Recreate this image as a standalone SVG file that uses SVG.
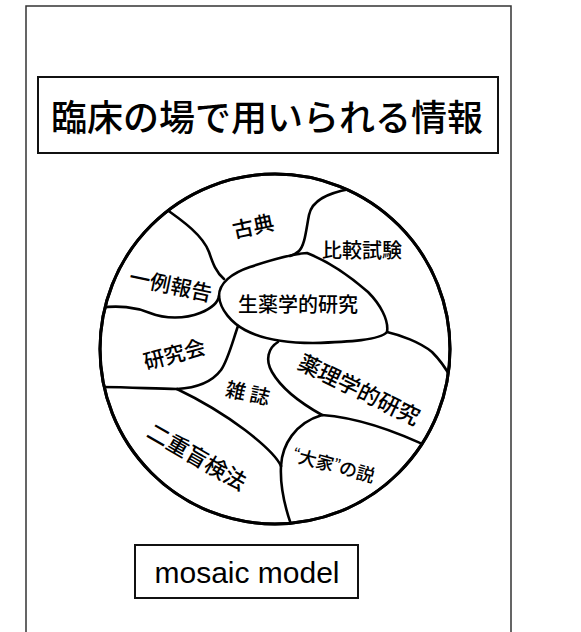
<svg xmlns="http://www.w3.org/2000/svg" width="581" height="632" viewBox="0 0 581 632">
<style>
  .frame { fill: none; stroke: #333; stroke-width: 1.5; }
  .box { fill: #fff; stroke: #111; stroke-width: 2; }
  .rim { fill: #fff; stroke: #000; stroke-width: 3; }
  .seam { fill: none; stroke: #000; stroke-width: 2.6; stroke-linejoin: round; stroke-linecap: round; }
  .jp { font-family: "Noto Sans CJK JP", "Noto Sans CJK SC", sans-serif; font-weight: 500; fill: #000; text-anchor: middle; dominant-baseline: central; }
  .lbl { font-size: 21px; }
  .en { font-family: "Liberation Sans", Arial, sans-serif; fill: #000; text-anchor: middle; }
</style>
<defs>
  <clipPath id="inside">
    <circle cx="275" cy="349" r="175"/>
  </clipPath>
</defs>
<rect width="581" height="632" fill="#fff"/>
<path class="frame" d="M26,640 L26,6 L511,6 L511,640"/>

<g id="title">
  <rect class="box" x="38" y="77" width="460" height="76"/>
  <text class="jp" x="267" y="115" font-size="36">臨床の場で用いられる情報</text>
</g>

<g id="mosaic">
  <circle class="rim" cx="275" cy="349" r="175"/>
  <g id="connectors" clip-path="url(#inside)">
    <path class="seam" d="M160,205 C185,222 203,236 209,252 C213,264 216,272 224,279"/>
    <path class="seam" d="M350,189 C328,193 312,200 309,215 C306,230 305,245 299,251 C296,254 293,255 290,256"/>
    <path class="seam" d="M387,332 C400,335 420,342 432,352 C438,358 445,366 452,380"/>
    <path class="seam" d="M95,308 C120,305 135,307 150,313 C165,319 185,319 200,313 C210,309 218,303 219,296"/>
    <path class="seam" d="M238,326 C233,340 228,360 221,370 C212,382 195,388 177,389"/>
    <path class="seam" d="M95,387 C130,387 155,389 177,389"/>
    <path class="seam" d="M177,389 C200,400 225,415 245,430 C262,443 276,455 281,466"/>
    <path class="seam" d="M281,466 C280,485 283,505 295,535"/>
    <path class="seam" d="M281,466 C282,445 295,423 322,415 C350,417 390,428 435,450"/>
    <path class="seam" d="M278,342 C268,348 265,360 272,372 C280,386 295,400 322,415"/>
  </g>
  <circle cx="275" cy="349" r="175" fill="none" stroke="#000" stroke-width="3"/>
</g>

<g id="node-shoyaku">
  <path class="seam" d="M219,296 C219,283 232,273 250,267 C268,261 290,254 307,253 C330,262 352,278 368,292 C380,304 389,320 387,332 C380,340 350,342 313,343 C285,343 262,339 245,330 C232,323 220,310 219,296 Z"/>
  <text class="jp" x="298" y="303" font-size="20">生薬学的研究</text>
</g>
<g id="node-koten">
  <text class="jp lbl" x="253" y="225" transform="rotate(-12 253 225)">古典</text>
</g>
<g id="node-hikaku">
  <text class="jp" x="362" y="249" font-size="20">比較試験</text>
</g>
<g id="node-ichirei">
  <text class="jp lbl" x="171" y="284" transform="rotate(12 171 284)">一例報告</text>
</g>
<g id="node-kenkyukai">
  <text class="jp lbl" x="174" y="353" transform="rotate(-15 174 353)">研究会</text>
</g>
<g id="node-zasshi">
  <text class="jp" x="248" y="392" font-size="20" transform="rotate(12 248 392)">雑 誌</text>
</g>
<g id="node-yakuri">
  <text class="jp" x="360" y="388" font-size="22" transform="rotate(26 360 388)">薬理学的研究</text>
</g>
<g id="node-nijumoken">
  <text class="jp" x="198" y="455" font-size="22" transform="rotate(30 198 455)">二重盲検法</text>
</g>
<g id="node-taika">
  <text class="jp" x="334" y="464" font-size="18" transform="rotate(15 334 464)"><tspan font-family="Liberation Sans, sans-serif">“</tspan>大家<tspan font-family="Liberation Sans, sans-serif">”</tspan>の説</text>
</g>

<g id="caption">
  <rect class="box" x="135" y="545" width="223" height="53"/>
  <text class="en" x="247" y="583" font-size="30">mosaic model</text>
</g>
</svg>
